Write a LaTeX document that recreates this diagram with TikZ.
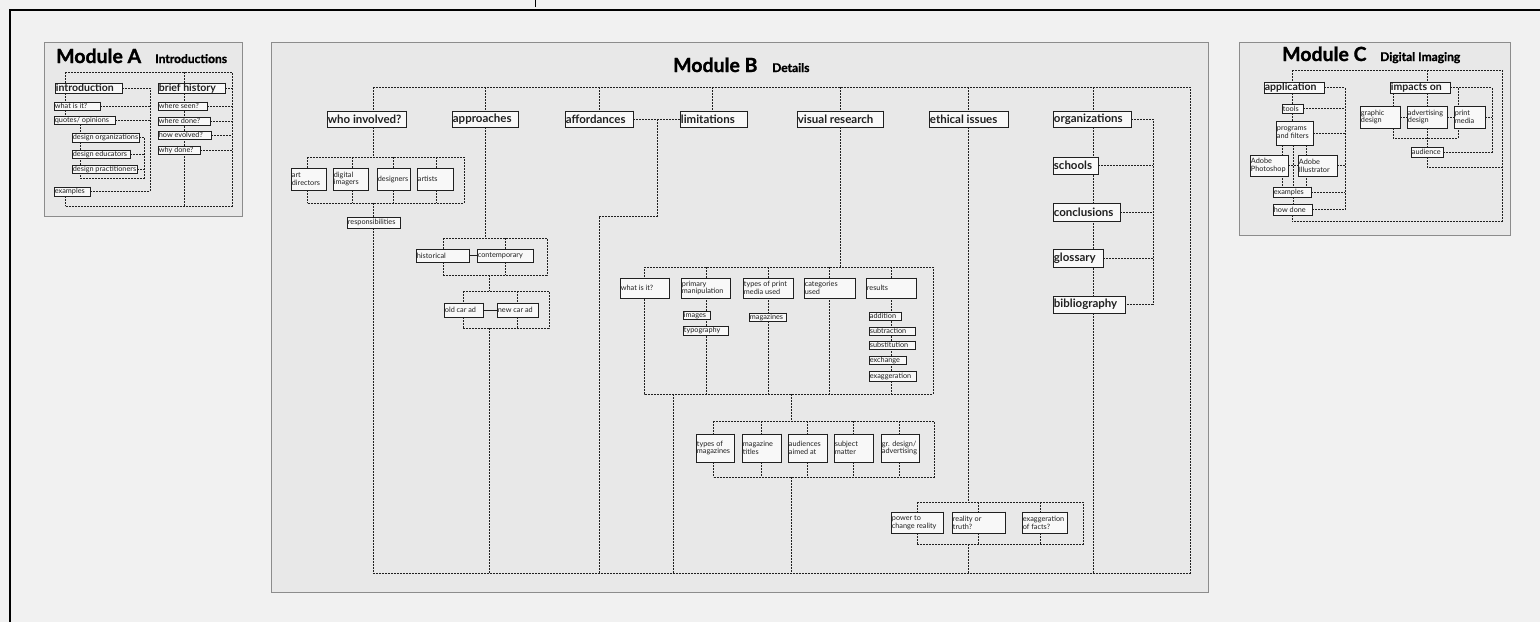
\documentclass[tikz,border=0pt]{standalone}
\usepackage{fontspec}
\setmainfont{Lato}
\newfontfamily\heavyfont{Lato}[BoldFeatures={FakeBold=1.3}]
\pgfdeclarelayer{back}
\pgfdeclarelayer{lines}
\pgfsetlayers{back,lines,main}
\definecolor{pagebg}{HTML}{F1F1F1}
\definecolor{modfill}{HTML}{E8E8E8}
\definecolor{modline}{HTML}{8C8C8C}
\definecolor{boxfill}{HTML}{F8F8F8}
\definecolor{ink}{HTML}{202020}
\newcommand\smf{\fontsize{7.3}{7.9}\selectfont}
\newcommand\bdf{\bfseries\fontsize{11.5}{12}\selectfont}
\newcommand\bdfa{\bfseries\fontsize{10.5}{11}\selectfont}
\tikzset{
  dl/.style={draw=ink, line width=0.85pt, dash pattern=on 2pt off 1pt},
  sl/.style={draw=ink, line width=0.9pt},
  box/.style={draw=ink, fill=boxfill, line width=0.6pt, inner sep=0pt,
     append after command={\pgfextra{\let\LN\tikzlastnode
       \draw[ink,line width=1.4pt] (\LN.north east) -- (\LN.south east);}}},
  lbl/.style={inner sep=1pt, align=left, anchor=west, font=\smf, text=ink},
  bd/.style={font=\bdf},
  bda/.style={font=\bdfa},
  module/.style={draw=modline, fill=modfill, line width=0.8pt, anchor=north west, inner sep=0pt},
  ttl/.style={anchor=base west, inner sep=0pt, text=black, font=\heavyfont\bfseries\fontsize{19.5}{20}\selectfont},
  sub/.style={anchor=base west, inner sep=0pt, text=black, font=\heavyfont\bfseries\fontsize{12}{13}\selectfont},
}
\newcommand\bx[7][]{%
  \node[box,minimum width={#5-#3},minimum height={#6-#4}] (#2) at ({(#3+#5)/2},{(#4+#6)/2}) {};
  \node[lbl,#1] (#2t) at (#2.west) {#7};}
\begin{document}
\begin{tikzpicture}[x=1pt,y=-1pt]
\useasboundingbox (0,0) rectangle (1540,622);
\begin{pgfonlayer}{back}
\fill[pagebg] (0,0) rectangle (1540,622);
\node[module, minimum width=198, minimum height=174] (modA) at (44,42) {};
\node[module, minimum width=937, minimum height=550] (modB) at (271,42) {};
\node[module, minimum width=271, minimum height=193] (modC) at (1239,42) {};
\draw[black, line width=2.6pt] (10,622) -- (10,10) -- (1540,10);
\draw[black, line width=0.6pt] (535,0) -- (535,7);
\end{pgfonlayer}

% ---------- titles
\node[ttl] (tA) at (56,63) {Module A};
\node[sub] (tAs) at (155,63) {Introductions};
\node[ttl] (tB) at (673,72) {Module B};
\node[sub] (tBs) at (772,72) {Details};
\node[ttl] (tC) at (1282,61) {Module C};
\node[sub] (tCs) at (1380,61) {Digital Imaging};

% ---------- Module A
\bx[bda]{intro}{55}{83}{122}{93}{introduction}
\bx[bda]{brief}{158}{83}{225}{93}{brief history}
\bx{whatis}{54}{102}{100}{110}{what is it?}
\bx{quotes}{54}{116}{115}{124}{quotes/ opinions}
\bx{dorg}{72}{133}{139}{142}{design organizations}
\bx{dedu}{72}{150}{130}{158}{design educators}
\bx{dprac}{72}{165}{137}{173}{design practitioners}
\bx{exA}{54}{187}{90}{196}{examples}
\bx{wseen}{158}{102}{207}{110}{where seen?}
\bx{wdone}{158}{117}{210}{125}{where done?}
\bx{hevol}{158}{131}{211}{139}{how evolved?}
\bx{ydone}{158}{146}{200}{154}{why done?}

% ---------- Module C
\bx[bda]{app}{1264}{82}{1324}{93}{application}
\bx[bda]{imp}{1390}{82}{1450}{93}{impacts on}
\bx{tools}{1282}{104}{1303}{113}{tools}
\bx{prog}{1276}{121}{1313}{145}{programs\\and filters}
\bx{ps}{1250}{155}{1288}{176}{Adobe\\Photoshop}
\bx{ai}{1298}{155}{1337}{176}{Adobe\\Illustrator}
\bx{exC}{1273}{187}{1311}{197}{examples}
\bx{how}{1273}{204}{1312}{215}{how done}
\bx{gd}{1360}{106}{1400}{128}{graphic\\design}
\bx{ad}{1407}{106}{1447}{128}{advertising\\design}
\bx{pm}{1454}{106}{1485}{128}{print\\media}
\bx{aud}{1411}{147}{1443}{157}{audience}

% ---------- Module B
\bx[bd]{who}{327}{111}{406}{127}{who involved?}
\bx[bd]{appr}{452}{111}{518}{127}{approaches}
\bx[bd]{aff}{565}{111}{633}{127}{affordances}
\bx[bd]{lim}{680}{111}{747}{127}{limitations}
\bx[bd]{vis}{797}{111}{883}{127}{visual research}
\bx[bd]{eth}{929}{111}{1008}{127}{ethical issues}
\bx[bd]{org}{1053}{111}{1131}{127}{organizations}
\bx[bd]{sch}{1053}{157}{1098}{174}{schools}
\bx[bd]{con}{1053}{203}{1120}{221}{conclusions}
\bx[bd]{glo}{1053}{249}{1103}{267}{glossary}
\bx[bd]{bib}{1053}{296}{1125}{313}{bibliography}

\bx{artd}{291}{168}{326}{190}{art\\directors}
\bx{digi}{333}{168}{368}{190}{digital\\imagers}
\bx{desg}{377}{168}{410}{190}{designers}
\bx{arts}{417}{168}{453}{190}{artists}
\bx{resp}{347}{217}{400}{228}{responsibilities}

\bx{hist}{416}{249}{469}{262}{historical}
\bx{cont}{477}{249}{533}{262}{contemporary}
\bx{old}{444}{303}{483}{317}{old car ad}
\bx{new}{497}{303}{538}{317}{new car ad}

\bx{whatB}{620}{278}{669}{298}{what is it?}
\bx{prim}{681}{278}{730}{298}{primary\\manipulation}
\bx{types}{743}{278}{793}{298}{types of print\\media used}
\bx{cat}{804}{278}{855}{298}{categories\\used}
\bx{res}{866}{278}{916}{298}{results}
\bx{img}{683}{311}{710}{319}{images}
\bx{typo}{683}{326}{728}{335}{typography}
\bx{mag}{749}{313}{786}{321}{magazines}
\bx{add}{869}{312}{901}{320}{addition}
\bx{subt}{869}{327}{915}{335}{subtraction}
\bx{subst}{869}{341}{915}{349}{substitution}
\bx{exch}{869}{356}{906}{364}{exchange}
\bx{exag}{869}{371}{916}{381}{exaggeration}

\bx{tmag}{696}{434}{734}{462}{types of\\magazines}
\bx{mtit}{742}{434}{781}{462}{magazine\\titles}
\bx{aimd}{788}{434}{827}{462}{audiences\\aimed at}
\bx{subj}{834}{434}{873}{462}{subject\\matter}
\bx{grd}{881}{434}{919}{462}{gr. design/\\advertising}

\bx{pow}{891}{512}{943}{533}{power to\\change reality}
\bx{real}{952}{512}{1005}{533}{reality or\\truth?}
\bx{exf}{1022}{512}{1067}{533}{exaggeration\\of facts?}

% ---------- coordinates
\coordinate (aL) at (65,72);   \coordinate (aR) at (232,72);
\coordinate (aB) at (65,206);  \coordinate (aC) at (150,88);
\coordinate (aBr) at (80,178); \coordinate (aBrR) at (144,178);
\coordinate (aM) at (184,72);

\coordinate (cL) at (1292,70); \coordinate (cR) at (1502,70);
\coordinate (cB) at (1292,221); \coordinate (cV) at (1345,0);
\coordinate (cP1) at (1282,0); \coordinate (cP2) at (1293,0); \coordinate (cP3) at (1306,0);
\coordinate (cM) at (1427,70); \coordinate (cG) at (1393,0); \coordinate (cPM) at (1458,0);
\coordinate (cRR) at (1492,0); \coordinate (cRow) at (0,138); \coordinate (cAud) at (0,167);

\coordinate (bTL) at (373,87); \coordinate (bTR) at (1190,87);
\coordinate (bBL) at (373,573); \coordinate (bBR) at (1190,573);
\coordinate (bc2) at (485,87); \coordinate (bc3) at (599,87); \coordinate (bc4) at (712,87);
\coordinate (bc5) at (840,87); \coordinate (bc6) at (968,87); \coordinate (bc7) at (1093,87);

\coordinate (wT) at (0,157); \coordinate (wB) at (0,203);
\coordinate (w1) at (307,0); \coordinate (w2) at (352,0); \coordinate (w3) at (393,0);
\coordinate (w4) at (436,0); \coordinate (wr) at (464,0);

\coordinate (pT1) at (0,238); \coordinate (pB1) at (0,275);
\coordinate (pT2) at (0,291); \coordinate (pB2) at (0,328);
\coordinate (p1) at (443,0); \coordinate (p2) at (505,0); \coordinate (pR1) at (547,0);
\coordinate (p3) at (463,0); \coordinate (p4) at (517,0); \coordinate (pR2) at (549,0);
\coordinate (pcol) at (489,0);

\coordinate (fk) at (657,0); \coordinate (fy) at (0,216);

\coordinate (mT) at (0,267); \coordinate (mB) at (0,394);
\coordinate (m1) at (644,0); \coordinate (m2) at (706,0); \coordinate (m3) at (768,0);
\coordinate (m4) at (829,0); \coordinate (m5) at (891,0); \coordinate (mR) at (933,0);
\coordinate (mD1) at (673,0); \coordinate (mD2) at (791,0);

\coordinate (lT) at (0,421); \coordinate (lB) at (0,477);
\coordinate (l1) at (713,0); \coordinate (l2) at (761,0); \coordinate (l3) at (807,0);
\coordinate (l4) at (853,0); \coordinate (l5) at (899,0); \coordinate (lR) at (934,0);

\coordinate (eT) at (0,502); \coordinate (eB) at (0,544);
\coordinate (e1) at (917,0); \coordinate (e2) at (978,0); \coordinate (e3) at (1040,0);
\coordinate (eR) at (1083,0);
\coordinate (oR) at (1153,0);

\begin{pgfonlayer}{lines}
% Module A
\draw[dl] (aL) -- (aR) -- (aR |- aB) -- (aB);
\draw[dl] (aL) -- (aL |- intro.north);
\draw[dl] (aL |- intro.south) -- (aL |- whatis.north);
\draw[dl] (aL |- whatis.south) -- (aL |- quotes.north);
\draw[dl] (aL |- exA.south) -- (aB);
\draw[dl] (aM) -- (aM |- aB);
\draw[dl] (intro.east) -- (intro.east -| aC) -- (aC |- exA.east) -- (exA.east);
\draw[dl] (whatis.east) -- (whatis.east -| aC);
\draw[dl] (quotes.east) -- (quotes.east -| aC);
\foreach \q in {brief,wseen,wdone,hevol,ydone} \draw[dl] (\q.east) -- (\q.east -| aR);
\draw[dl] (aBr |- quotes.south) -- (aBr) -- (aBrR) -- (aBrR |- dorg.east);
\foreach \q in {dorg,dedu,dprac} \draw[dl] (\q.east) -- (\q.east -| aBrR);

% Module C
\draw[dl] (cL) -- (cR) -- (cR |- cB) -- (cB);
\draw[dl] (cL) -- (cL |- app.north);
\draw[dl] (cL |- app.south) -- (cL |- tools.north);
\draw[dl] (cL |- tools.south) -- (cL |- prog.north);
\draw[dl] (cL |- how.south) -- (cB);
\draw[dl] (app.east) -- (app.east -| cV) -- (cV |- how.east);
\foreach \q in {tools,prog,ai,exC,how} \draw[dl] (\q.east) -- (\q.east -| cV);
\foreach \p in {cP1,cP2,cP3} \draw[dl] (\p |- prog.south) -- (\p |- exC.north);
\draw[dl] (cP2 |- exC.south) -- (cP2 |- how.north);
\draw[dl] (ps.east) -- (ai.west);
\draw[dl] (cM) -- (cM |- imp.north);
\draw[dl] (cG |- imp.south) -- (cG |- gd.north);
\draw[dl] (cM |- imp.south) -- (cM |- ad.north);
\draw[dl] (imp.east) -- (imp.east -| cRR) -- (cRR |- aud.east) -- (aud.east);
\draw[dl] (cPM |- imp.east) -- (cPM |- pm.north);
\draw[dl] (gd.east) -- (ad.west);
\draw[dl] (ad.east) -- (pm.west);
\draw[dl] (pm.east) -- (pm.east -| cRR);
\draw[dl] (cG |- gd.south) -- (cG |- cRow) -- (cPM |- cRow) -- (cPM |- pm.south);
\draw[dl] (cM |- ad.south) -- (cM |- aud.north);
\draw[dl] (cM |- aud.south) -- (cM |- cAud) -- (cR |- cAud);

% Module B frame and columns
\draw[dl] (bTL) -- (bTR) -- (bBR) -- (bBL) -- (bBL |- resp.south);
\draw[dl] (bTL) -- (bTL |- who.north);
\foreach \p/\q in {bc2/appr,bc3/aff,bc4/lim,bc5/vis,bc6/eth,bc7/org}
  \draw[dl] (\p) -- (\p |- \q.north);

% who involved
\draw[dl] (bTL |- who.south) -- (bTL |- wT);
\draw[dl] (w1 |- wT) -- (wr |- wT) -- (wr |- wB) -- (w1 |- wB);
\foreach \p/\q in {w1/artd,w2/digi,w3/desg,w4/arts} {
  \draw[dl] (\p |- wT) -- (\p |- \q.north);
  \draw[dl] (\p |- \q.south) -- (\p |- wB);}
\draw[dl] (bTL |- wB) -- (bTL |- resp.north);

% approaches
\draw[dl] (bc2 |- appr.south) -- (bc2 |- pT1);
\draw[dl] (p1 |- pT1) -- (pR1 |- pT1) -- (pR1 |- pB1) -- (p1 |- pB1);
\foreach \p/\q in {p1/hist,p2/cont} {
  \draw[dl] (\p |- pT1) -- (\p |- \q.north);
  \draw[dl] (\p |- \q.south) -- (\p |- pB1);}
\draw[sl] (hist.east) -- (cont.west);
\draw[dl] (pcol |- pB1) -- (pcol |- pT2);
\draw[dl] (p3 |- pT2) -- (pR2 |- pT2) -- (pR2 |- pB2) -- (p3 |- pB2);
\foreach \p/\q in {p3/old,p4/new} {
  \draw[dl] (\p |- pT2) -- (\p |- \q.north);
  \draw[dl] (\p |- \q.south) -- (\p |- pB2);}
\draw[sl] (old.east) -- (new.west);
\draw[dl] (pcol |- pB2) -- (pcol |- bBL);

% affordances / limitations
\draw[dl] (aff.east) -- (lim.west);
\draw[dl] (fk |- aff.east) -- (fk |- fy) -- (bc3 |- fy) -- (bc3 |- bBL);

% visual research block
\draw[dl] (bc5 |- vis.south) -- (bc5 |- mT);
\draw[dl] (m1 |- mT) -- (mR |- mT) -- (mR |- mB) -- (m1 |- mB) -- cycle;
\foreach \p in {m2,m3,m4,m5} \draw[dl] (\p |- mT) -- (\p |- mB);
\draw[dl] (mD1 |- mB) -- (mD1 |- bBL);
\draw[dl] (mD2 |- mB) -- (mD2 |- lT);

% lower block
\draw[dl] (l1 |- lT) -- (lR |- lT) -- (lR |- lB) -- (l1 |- lB);
\foreach \p/\q in {l1/tmag,l2/mtit,l3/aimd,l4/subj,l5/grd} {
  \draw[dl] (\p |- lT) -- (\p |- \q.north);
  \draw[dl] (\p |- \q.south) -- (\p |- lB);}
\draw[dl] (mD2 |- lB) -- (mD2 |- bBL);

% ethical issues block
\draw[dl] (bc6 |- eth.south) -- (bc6 |- eT);
\draw[dl] (e1 |- eT) -- (eR |- eT) -- (eR |- eB) -- (e1 |- eB);
\foreach \p/\q in {e1/pow,e2/real,e3/exf} {
  \draw[dl] (\p |- eT) -- (\p |- \q.north);
  \draw[dl] (\p |- \q.south) -- (\p |- eB);}
\draw[dl] (bc6 |- eB) -- (bc6 |- bBL);

% organizations
\draw[dl] (bc7 |- org.south) -- (bc7 |- bBL);
\draw[dl] (org.east) -- (org.east -| oR) -- (oR |- bib.east) -- (bib.east);
\foreach \q in {sch,con,glo} \draw[dl] (\q.east) -- (\q.east -| oR);
\end{pgfonlayer}
\end{tikzpicture}
\end{document}
